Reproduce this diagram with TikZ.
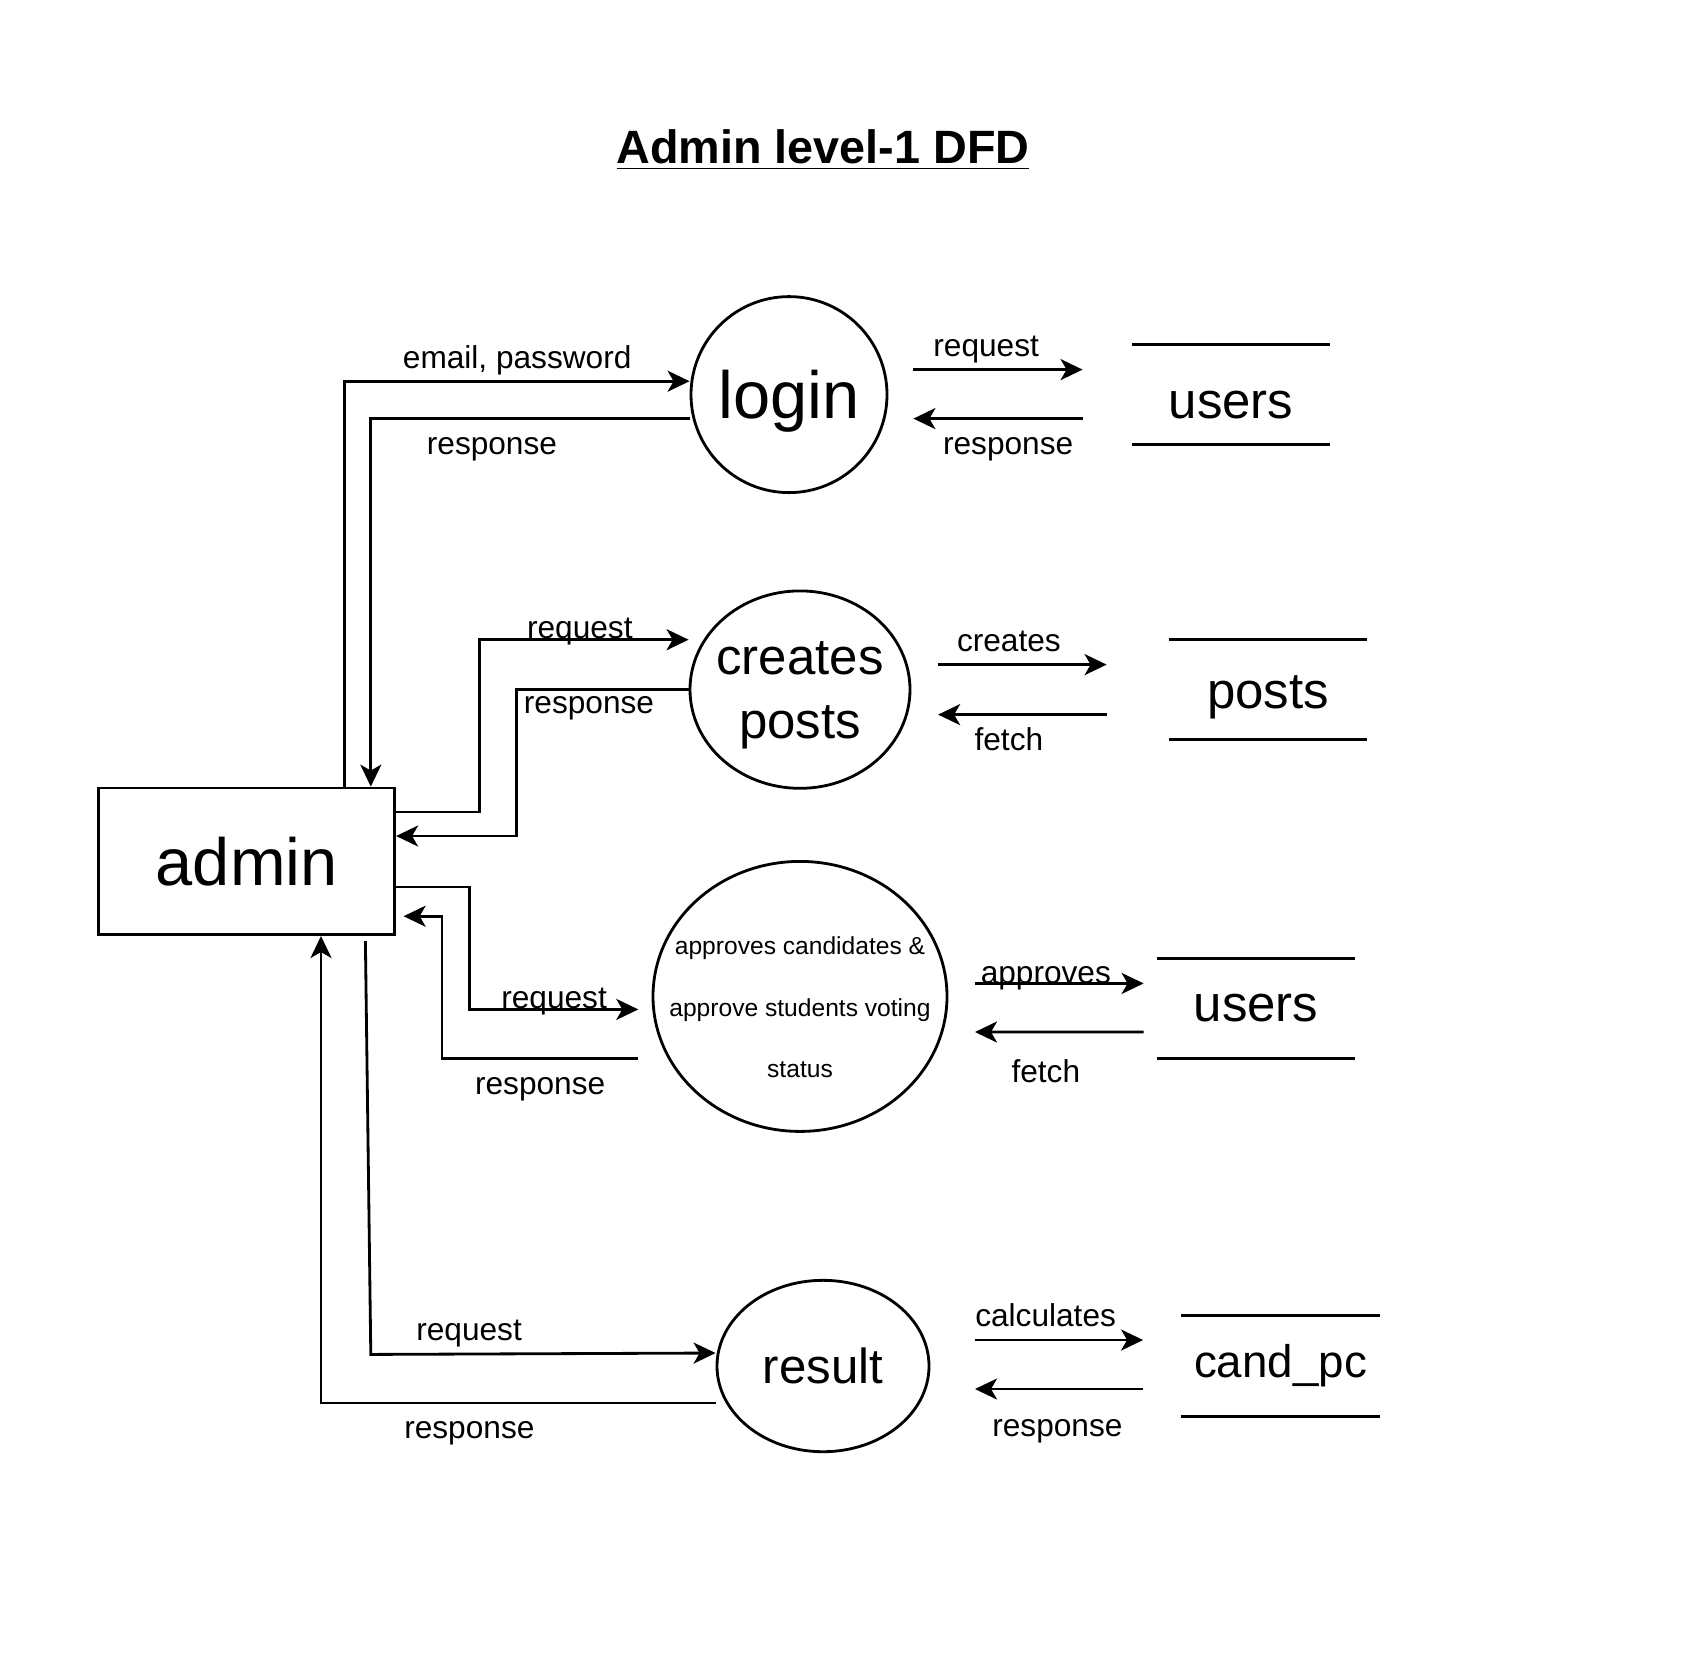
\documentclass[tikz,border=0pt]{standalone}
\usepackage{fontspec}
\setmainfont{Liberation Sans}
\usetikzlibrary{arrows.meta,shapes.geometric}

\begin{document}
\begin{tikzpicture}[thick, >={Stealth[length=2.2mm,width=2.1mm,inset=0.6mm]},
    font=\fontsize{9}{11}\selectfont,
    lbl/.style = {text height=6.5pt, text depth=0pt},
    ent/.style = {draw, rectangle, minimum width=2.96cm, minimum height=1.466cm, font=\fontsize{19}{22}\selectfont},
    proc/.style = {draw, ellipse, inner sep=0pt},
    store/.style = {minimum width=1.96cm, minimum height=0.975cm, inner sep=0pt, font=\fontsize{14.5}{17}\selectfont}]
\useasboundingbox (0,0) rectangle (17,-16.56);

    \node (title) at (8.23,-1.50) {\fontsize{13.3}{15}\selectfont\bfseries\underline{Admin level-1 DFD}};

    % entity and processes
    \node[ent] (admin) at (2.467,-8.613) {admin};
    \node[proc, minimum width=1.96cm, minimum height=1.96cm,
          label={[font=\fontsize{19}{22}\selectfont, yshift=-0.64mm]center:login}] (login) at (7.89,-3.946) {};
    \node[proc, minimum width=2.2cm, minimum height=1.974cm,
          label={[font=\fontsize{14.5}{18.2}\selectfont, align=center, yshift=-0.55mm]center:{creates\\posts}}] (cp) at (8.00,-6.896) {};
    \node[proc, minimum width=2.94cm, minimum height=2.7cm,
          label={[font=\fontsize{7}{17.5}\selectfont, align=center, yshift=-1.1mm]center:{approves candidates \&\\approve students voting\\status}}] (ap) at (8.00,-9.964) {};
    \node[proc, minimum width=2.12cm, minimum height=1.714cm,
          label={[font=\fontsize{14}{17}\selectfont]center:result}] (res) at (8.23,-13.66) {};

    % data stores
    \node[store, text height=13.5pt, text depth=0pt] (users1) at (12.31,-3.946) {users};
    \node[store, text height=11pt, text depth=0pt] (posts) at (12.68,-6.896) {posts};
    \node[store] (users2) at (12.56,-10.083) {users};
    \node[store, font=\fontsize{13}{16}\selectfont] (cand) at (12.805,-13.66) {cand\_pc};
    \foreach \s in {users1,posts,users2,cand} {
        \draw (\s.north west) -- (\s.north east);
        \draw (\s.south west) -- (\s.south east);
    }

% admin <-> processes
\draw[->] ([xshift=9.81mm]admin.north) |- ([yshift=1.34mm]login.west) node[lbl, pos=0.75, above] {email, password};
\draw[->] ([yshift=-2.35mm]login.west) -| ([xshift=12.41mm]admin.north) node[lbl, pos=0.31, below] {response};

\draw[->] ([yshift=4.93mm]admin.east) -- ++(0.833,0) |- ([yshift=4.99mm]cp.west) node[lbl, pos=0.74, above=-3.4pt] {request};
\draw[->] (cp.west) -- ++(-1.718,0) node[lbl, pos=0.58, below=-3.3pt] {response} |- ([yshift=2.53mm]admin.east);

\draw[->] ([yshift=-2.56mm]admin.east) -- ++(0.737,0) |- ([shift={(-1.33mm,-1.3mm)}]ap.west) node[lbl, pos=0.75, above=-3.4pt] {request};
\draw[->] ([shift={(-1.33mm,-6.18mm)}]ap.west) -- ++(-1.963,0) node[lbl, midway, below] {response} |- ([shift={(0.75mm,-5.49mm)}]admin.east);

\draw[->] ([shift={(11.87mm,-0.5mm)}]admin.south) -- ++(0.054,-4.134) -- ([yshift=1.3mm]res.west) node[lbl, pos=0.285, above] {request};
\draw[->] ([yshift=-3.7mm]res.west) -| ([xshift=7.43mm]admin.south) node[lbl, pos=0.312, below] {response};

% processes <-> stores
\draw[->] ([shift={(2.5mm,2.5mm)}]login.east) -- ([shift={(-4.9mm,2.5mm)}]users1.west) node[lbl, pos=0.43, above] {request};
\draw[->] ([shift={(-4.9mm,-2.4mm)}]users1.west) -- ([shift={(2.5mm,-2.4mm)}]login.east) node[lbl, pos=0.44, below] {response};

\draw[->] ([shift={(2.67mm,2.5mm)}]cp.east) -- ([shift={(-6.2mm,2.5mm)}]posts.west) node[lbl, pos=0.42, above] {creates};
\draw[->] ([shift={(-6.2mm,-2.5mm)}]posts.west) -- ([shift={(2.67mm,-2.5mm)}]cp.east) node[lbl, pos=0.58, below] {fetch};

\draw[->] ([shift={(2.66mm,1.3mm)}]ap.east) -- ([shift={(-1.3mm,2.49mm)}]users2.west) node[lbl, pos=0.42, above=-3.8pt] {approves};
\draw[->] ([shift={(-1.3mm,-2.37mm)}]users2.west) -- ([shift={(2.66mm,-3.56mm)}]ap.east) node[lbl, pos=0.58, below=4pt] {fetch};

\draw[->] ([shift={(4.46mm,2.6mm)}]res.east) -- ([shift={(-3.8mm,2.6mm)}]cand.west) node[lbl, pos=0.42, above] {calculates};
\draw[->] ([shift={(-3.8mm,-2.3mm)}]cand.west) -- ([shift={(4.46mm,-2.3mm)}]res.east) node[lbl, pos=0.51, below=3.4pt] {response};

\end{tikzpicture}
\end{document}
